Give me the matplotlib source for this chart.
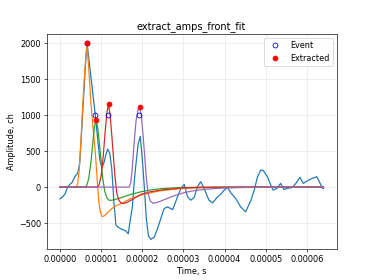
import numpy as np
import matplotlib
matplotlib.use("Agg")
import matplotlib.pyplot as plt
from matplotlib.ticker import FormatStrFormatter, MultipleLocator

# ---- data (times in microseconds, amplitudes in channels) ----
signal_t = [0.0, 0.7, 1.3, 1.9, 2.4, 2.9, 3.7, 4.3, 4.8, 5.2, 5.7, 6.2, 6.6, 7.1, 7.6, 8.1,
            8.6, 9.2, 9.7, 10.2, 10.7, 11.2, 11.6, 12.1, 12.6, 13.1, 13.6, 14.2, 14.8, 15.4,
            16.0, 16.6, 17.1, 17.6, 18.0, 18.4, 19.0, 19.5, 20.0, 20.5, 21.0, 21.5, 22.1,
            22.9, 23.7, 24.5, 25.3, 26.1, 27.4, 28.4, 29.4, 30.2, 31.0, 31.8, 32.6, 33.4,
            34.2, 35.0, 36.2, 37.1, 38.3, 39.1, 39.9, 40.7, 41.5, 42.7, 43.9, 45.1, 46.4,
            47.2, 48.0, 48.8, 49.4, 50.4, 51.2, 51.8, 52.7, 53.6, 54.4, 55.3, 56.5, 57.3,
            58.3, 59.1, 60.1, 61.3, 62.4, 63.2, 63.8, 64.0]
signal_v = [-164, -135, -89, 5, 37, 60, 154, 191, 331, 700, 1200, 1700, 2000, 1750, 1500, 1250,
            1000, 650, 380, 270, 340, 460, 528, 470, 250, -200, -530, -560, -580, -595,
            -610, -650, -450, -275, 50, 284, 600, 705, 400, 0, -450, -680, -728,
            -696, -579, -438, -299, -276, -313, -159, -18, 37, -135, -182, -145, 5,
            75, -18, -182, -219, -135, -98, -42, -4, -79, -159, -276, -345, -182,
            -42, 145, 238, 229, 145, 28, -42, -18, 51, -32, -18, -4, 51,
            136, 51, 88, 122, 145, 51, -18, -20]

fit1_t = [0, 3.9, 4.3, 4.7, 5.1, 5.5, 6.0, 6.55, 7.0, 7.5, 8.0, 8.5, 9.0, 9.4, 9.8, 10.2,
          10.8, 11.6, 12.6, 13.6, 14.8, 17.2, 19.7, 22.1, 24.5, 26.9, 30, 35, 40, 50, 64]
fit1_v = [0, 0, 40, 250, 650, 1100, 1600, 2000, 1650, 1200, 850, 550, 150, -180, -340, -410,
          -400, -355, -300, -260, -230, -160, -112, -79, -50, -35, -18, -8, -3, -1, 0]

fit2_t = [0, 6.0, 6.5, 7.0, 7.5, 8.0, 8.4, 8.8, 9.2, 9.6, 10.0, 10.4, 10.9, 11.4, 12.0,
          12.6, 13.4, 14.8, 17.0, 19.7, 22.0, 24.5, 29.4, 35, 45, 64]
fit2_v = [0, 0, 20, 120, 330, 620, 850, 938, 820, 600, 350, 120, -60, -150, -185,
          -182, -172, -148, -105, -65, -40, -22, -6, -2, 0, 0]

fit3_t = [0, 9.0, 9.5, 10.0, 10.5, 11.0, 11.4, 11.8, 12.2, 12.6, 13.0, 13.4, 13.8, 14.3,
          14.8, 15.4, 16.2, 17.2, 19.7, 22.0, 24.5, 29.4, 35, 45, 64]
fit3_v = [0, 0, 30, 150, 420, 780, 1030, 1153, 1000, 720, 420, 130, -80, -180,
          -220, -229, -215, -185, -100, -65, -42, -12, -3, 0, 0]

fit4_t = [0, 16.8, 17.2, 17.6, 18.0, 18.5, 19.0, 19.4, 19.8, 20.2, 20.6, 21.0, 21.4, 21.9,
          22.6, 23.5, 24.5, 26.0, 28.0, 30.0, 32.0, 35.0, 39.0, 45.0, 55.0, 64.0]
fit4_v = [0, 0, 60, 280, 600, 930, 1080, 1116, 980, 720, 420, 120, -80, -190,
          -225, -215, -195, -160, -115, -80, -55, -32, -15, -5, -1, 0]

event_t = [6.55, 8.5, 11.7, 19.3]
event_v = [2000, 1000, 1000, 1000]
extracted_t = [6.55, 8.8, 11.8, 19.4]
extracted_v = [2000, 938, 1153, 1116]

us = 1e-6

fig, ax = plt.subplots(figsize=(374 / 58.4, 280 / 58.4), dpi=58.4)

ax.plot(np.array(signal_t) * us, signal_v, color="C0")
ax.plot(np.array(fit1_t) * us, fit1_v, color="C1")
ax.plot(np.array(fit2_t) * us, fit2_v, color="C2")
ax.plot(np.array(fit3_t) * us, fit3_v, color="C3")
ax.plot(np.array(fit4_t) * us, fit4_v, color="C4")

ax.plot(np.array(event_t) * us, event_v, "o", mfc="none", mec="blue", label="Event")
ax.plot(np.array(extracted_t) * us, extracted_v, "o", color="red", label="Extracted")

ax.xaxis.set_major_locator(MultipleLocator(1e-5))
ax.xaxis.set_major_formatter(FormatStrFormatter("%.5f"))
ax.grid(True, color="#e6e6e6")
ax.set_axisbelow(True)
ax.set_title("extract_amps_front_fit")
ax.set_xlabel("Time, s")
ax.set_ylabel("Amplitude, ch")
ax.legend(loc="upper right")

fig.savefig("out.png", dpi=58.4)
